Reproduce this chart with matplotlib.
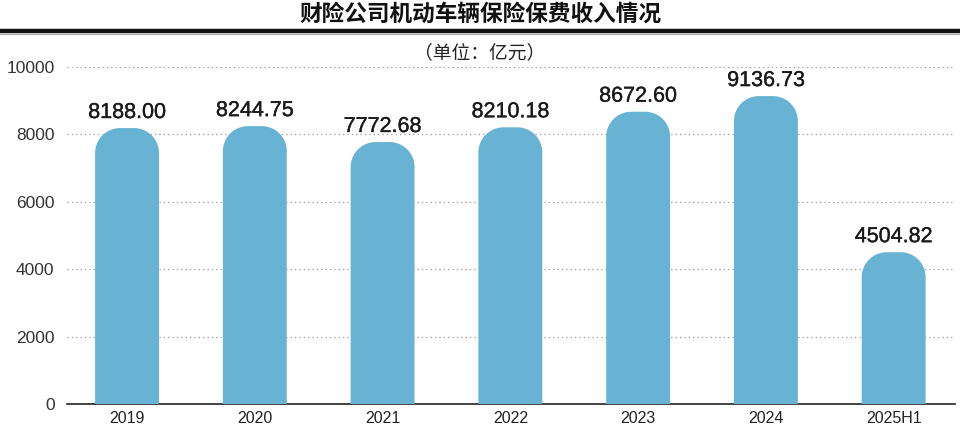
import matplotlib
matplotlib.use("Agg")
import matplotlib.pyplot as plt
from matplotlib.path import Path
from matplotlib.patches import PathPatch
from matplotlib.lines import Line2D
import matplotlib.patheffects as pe
import numpy as np

plt.rcParams['font.family'] = ['Liberation Sans', 'Noto Sans CJK SC', 'DejaVu Sans']

categories = ["2019", "2020", "2021", "2022", "2023", "2024", "2025H1"]
values = [8188.00, 8244.75, 7772.68, 8210.18, 8672.60, 9136.73, 4504.82]
labels = ["8188.00", "8244.75", "7772.68", "8210.18", "8672.60", "9136.73", "4504.82"]
yticks = [0, 2000, 4000, 6000, 8000, 10000]

title = "财险公司机动车辆保险保费收入情况"
subtitle = "（单位：亿元）"

bar_color = "#68B3D4"

fig = plt.figure(figsize=(9.6, 4.26), dpi=100)
ax = fig.add_axes([67/960, 22/426, (955-67)/960, (404-67)/426])

x = np.arange(len(categories))
bars = ax.bar(x, values, width=0.5, color=bar_color, zorder=3)
ax.set_xlim(-0.47, 6.48)
ax.set_ylim(0, 10000)

# rounded top corners
px_per_x = (955-67) / (6.48 + 0.47)
px_per_y = (404-67) / 10000
r_px = 25
rx = r_px / px_per_x
ry = r_px / px_per_y
for b in bars:
    x0, w, h = b.get_x(), b.get_width(), b.get_height()
    x1 = x0 + w
    t = np.linspace(0, np.pi/2, 24)
    verts = [(x0, 0), (x0, h - ry)]
    verts += [(x0 + rx - rx*np.cos(a), h - ry + ry*np.sin(a)) for a in t]
    verts += [(x1 - rx + rx*np.sin(a), h - ry + ry*np.cos(a)) for a in t]
    verts += [(x1, 0), (x0, 0)]
    codes = [Path.MOVETO] + [Path.LINETO]*(len(verts)-2) + [Path.CLOSEPOLY]
    ax.add_patch(PathPatch(Path(verts, codes), facecolor=bar_color, edgecolor='none', zorder=3))
    b.set_visible(False)

for xi, v, lab in zip(x, values, labels):
    ax.text(xi, v + 150, lab, ha='center', va='bottom', fontsize=15.5,
            color='#1a1a1a', zorder=4,
            path_effects=[pe.withStroke(linewidth=0.25, foreground='#1a1a1a')])

ax.set_yticks(yticks)
ax.set_yticklabels([str(t) for t in yticks], fontsize=12.5, color='#333333')
ax.set_xticks(x)
ax.set_xticklabels(categories, fontsize=11.5, color='#222222')
ax.tick_params(axis='both', length=0)
ax.tick_params(axis='y', pad=9)
ax.tick_params(axis='x', pad=5)

for t in yticks[1:]:
    ax.axhline(t, color='#999999', linestyle=(0, (1, 2.5)), linewidth=0.9, zorder=1)

for s in ['top', 'right', 'left']:
    ax.spines[s].set_visible(False)
ax.spines['bottom'].set_color('#222222')
ax.spines['bottom'].set_linewidth(1.2)

fig.text(0.5, 1 - 14/426, title, ha='center', va='center', fontsize=16.3,
         fontweight='bold', color='#111111', family=['Noto Sans CJK SC', 'DejaVu Sans'])
fig.text(0.5, 1 - 53/426, subtitle, ha='center', va='center', fontsize=13.5,
         color='#222222', family=['Noto Sans CJK SC', 'DejaVu Sans'])

fig.add_artist(Line2D([0, 1], [1 - 31/426, 1 - 31/426], transform=fig.transFigure,
                      color='#111111', linewidth=3.2))
fig.add_artist(Line2D([0, 1], [1 - 33.6/426, 1 - 33.6/426], transform=fig.transFigure,
                      color='#aaaaaa', linewidth=0.8))

fig.savefig("out.png", dpi=100)
